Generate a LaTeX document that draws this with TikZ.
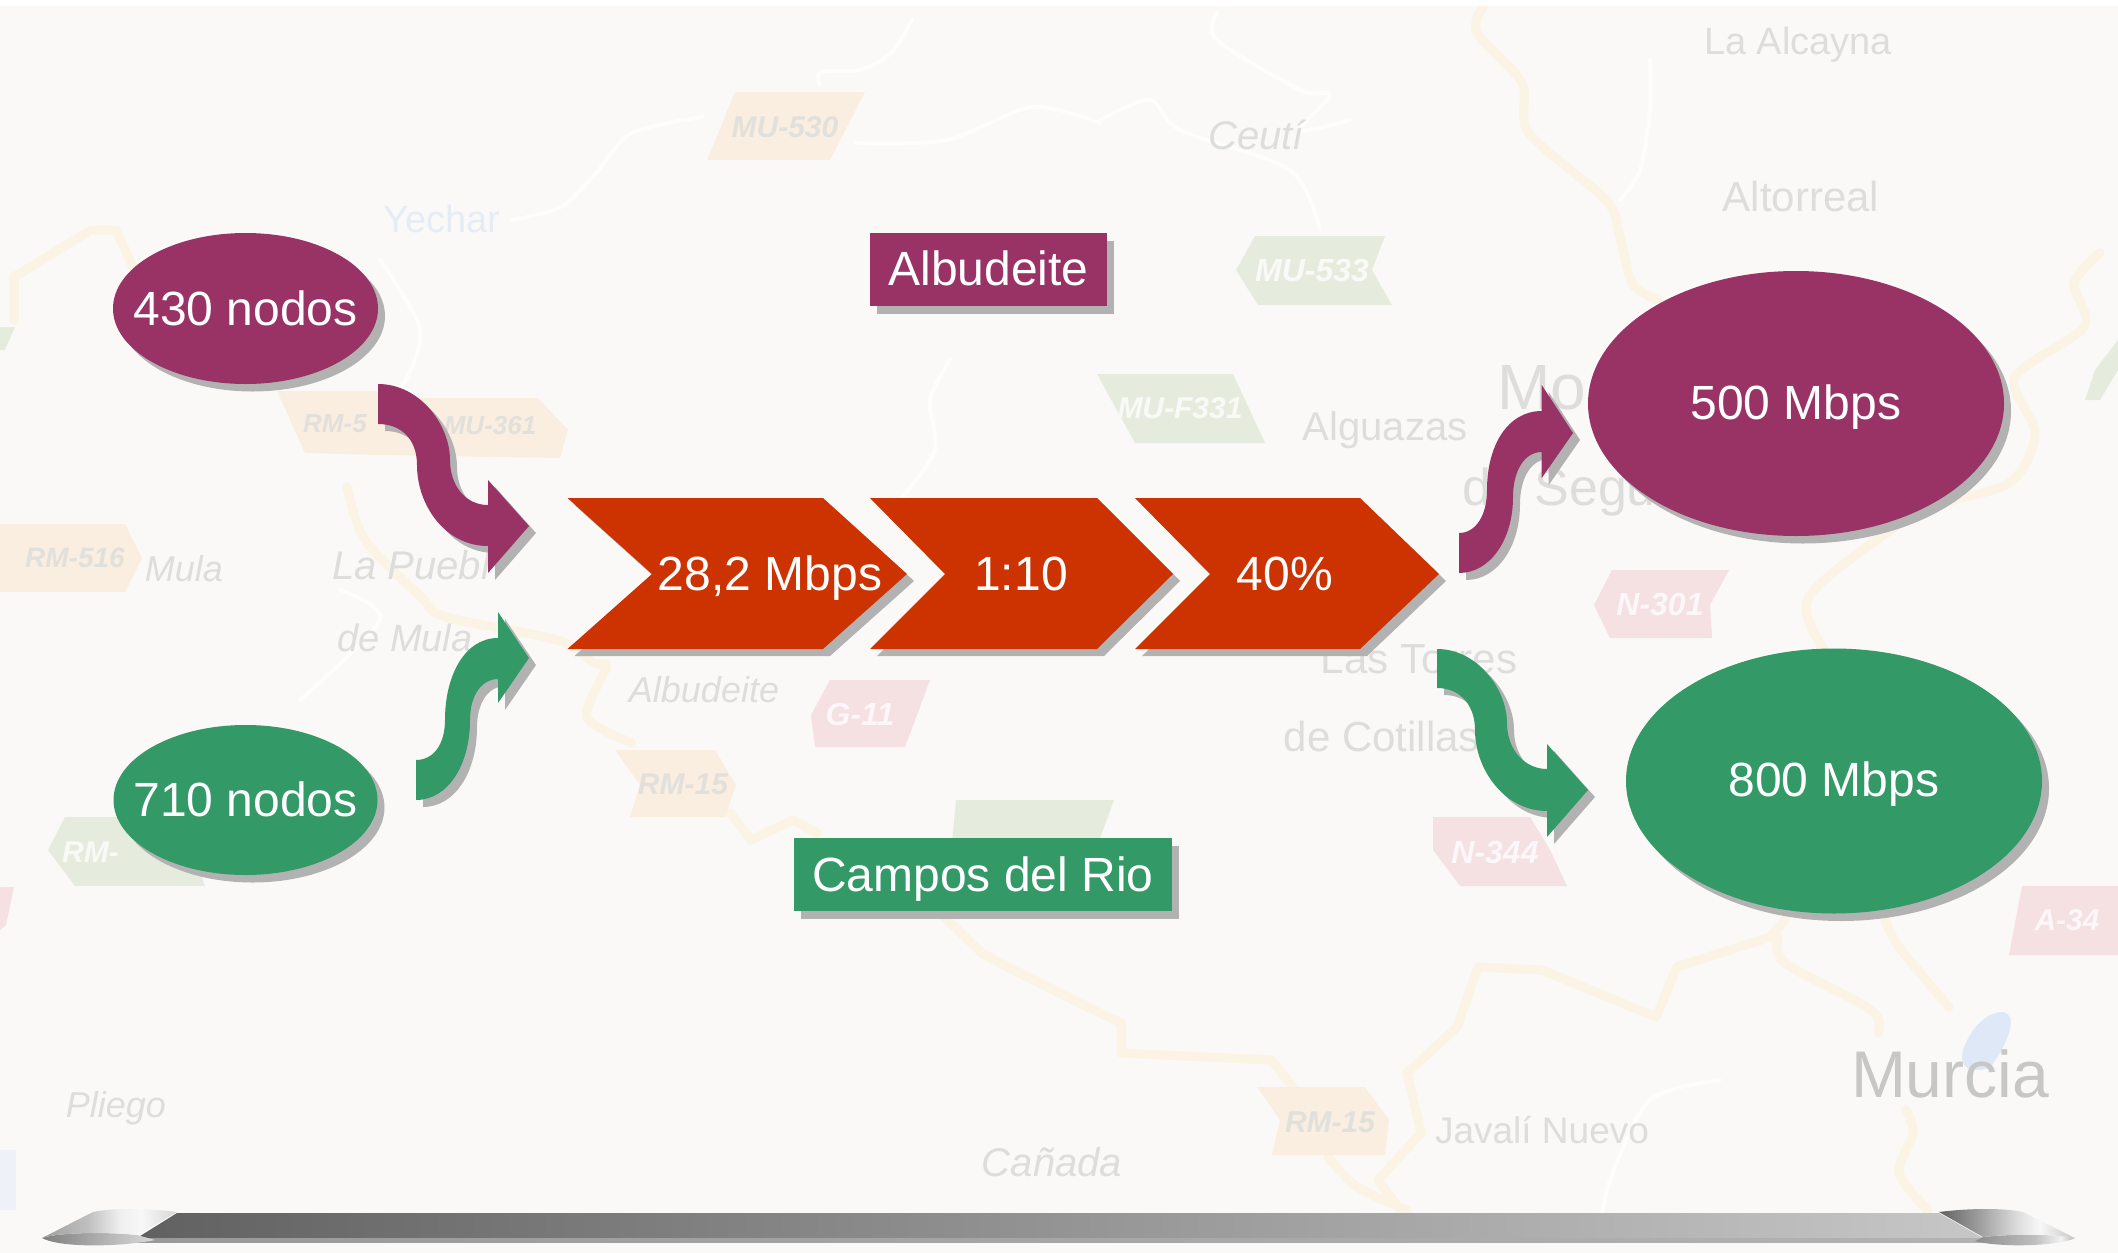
\documentclass[tikz,border=0pt]{standalone}
\usepackage{fontspec}
\setmainfont{Liberation Sans}
\usetikzlibrary{shapes.geometric,shadows}
\definecolor{plum}{HTML}{993366}
\definecolor{teal2}{HTML}{339966}
\definecolor{rust}{HTML}{CC3300}
\definecolor{shadowgrey}{HTML}{B2B2B2}
\definecolor{mapbg}{HTML}{FAF9F7}
\definecolor{roadc}{HTML}{FBF3E3}
\definecolor{roadw}{HTML}{FDFDFC}
\definecolor{mapgrey}{HTML}{DDDDDB}
\definecolor{shO}{HTML}{FAEEE0}
\definecolor{shG}{HTML}{E6ECDD}
\definecolor{shP}{HTML}{F5E0E2}
\definecolor{lake}{HTML}{DFE8F6}
\newcommand\mapfs[1]{\fontsize{#1}{#1}\selectfont}
\newcommand\blockshape[2]{\fill[shadowgrey,shift={(7,7)}] #2; \fill[#1] #2;}
\pgfdeclarehorizontalshading{capright}{100bp}{color(0bp)=(black!62);color(25bp)=(black!62);color(41bp)=(black!36);color(54bp)=(black!13);color(62bp)=(black!3);color(75bp)=(black!22);color(100bp)=(black!22)}
\pgfdeclarehorizontalshading{capleft}{100bp}{color(0bp)=(black!38);color(25bp)=(black!38);color(42bp)=(black!25);color(54bp)=(black!6);color(62bp)=(black!3);color(75bp)=(black!16);color(100bp)=(black!16)}
\pgfdeclarehorizontalshading{lensleft}{100bp}{color(0bp)=(black!50);color(25bp)=(black!50);color(50bp)=(black!32);color(75bp)=(black!14);color(100bp)=(black!14)}
\pgfdeclarehorizontalshading{lensright}{100bp}{color(0bp)=(black!45);color(25bp)=(black!45);color(55bp)=(black!25);color(68bp)=(black!5);color(75bp)=(black!30);color(100bp)=(black!30)}
\tikzset{
  x=1pt,y=-1pt,
  roadline/.style={draw=roadc,line width=9pt,line join=round,line cap=round},
  whiteline/.style={draw=roadw,line width=4pt,line join=round,line cap=round},
  maplabel/.style={text=mapgrey,inner sep=0pt,font=\mapfs{#1}},
  maplabelit/.style={text=mapgrey,inner sep=0pt,font=\mapfs{#1}\itshape},
  shieldO/.style={text=mapgrey!85!shO,inner sep=0pt,font=\mapfs{#1}\bfseries\itshape},
  shieldW/.style={text=white!75!shG,inner sep=0pt,font=\mapfs{#1}\bfseries\itshape},
  shieldP/.style={text=white!75!shP,inner sep=0pt,font=\mapfs{#1}\bfseries\itshape},
  tagtext/.style={text=white,font=\mapfs{48},inner sep=0pt,text height=34pt},
  oval/.style={ellipse,tagtext,text depth=0pt,
    drop shadow={shadow xshift=7pt,shadow yshift=-7.5pt,fill=shadowgrey,opacity=1}},
  tagbox/.style={rectangle,tagtext,
    drop shadow={shadow xshift=7pt,shadow yshift=-7.5pt,fill=shadowgrey,opacity=1}},
  chevlabel/.style={text=white,font=\mapfs{48},inner sep=0pt,anchor=base},
}
\begin{document}
\begin{tikzpicture}
\useasboundingbox (0,0) rectangle (2118,1253);
\fill[white] (0,0) rectangle (2118,1253);
\fill[mapbg] (0,6) rectangle (2118,1253);
% faint white roads
\begin{scope}
\clip (0,6) rectangle (2118,1253);
\draw[whiteline] plot[smooth] coordinates {(912,20)(891,53)(860,70)(821,72)(820,85)};
\draw[whiteline] plot[smooth] coordinates {(702,117)(632,133)(596,173)(561,207)(512,220)};
\draw[whiteline] plot[smooth] coordinates {(856,143)(947,140)(1032,107)(1100,123)};
\draw[whiteline] plot[smooth] coordinates {(1217,13)(1217,40)(1300,90)(1330,95)(1300,130)(1350,120)};
\draw[whiteline] plot[smooth] coordinates {(1100,120)(1150,100)(1180,130)(1290,170)(1320,230)};
\draw[whiteline] plot[smooth] coordinates {(1650,60)(1650,110)(1640,170)(1620,200)};
\draw[whiteline] plot[smooth] coordinates {(380,260)(420,330)(400,390)(360,430)};
\draw[whiteline] plot[smooth] coordinates {(950,360)(930,400)(935,450)(900,500)};
\draw[whiteline] plot[smooth] coordinates {(1720,1080)(1650,1100)(1610,1180)(1600,1230)};
\draw[whiteline] plot[smooth] coordinates {(340,590)(380,620)(300,700)};
% yellow roads
\draw[roadline] plot[smooth] coordinates {(1483,7)(1477,33)(1522,83)(1529,133)(1606,200)(1619,233)(1632,283)(1658,300)};
\draw[roadline] plot[smooth] coordinates {(2100,253)(2074,283)(2084,327)(2015,377)(2035,433)(2009,483)(1918,513)(1810,595)(1824,649)};
\draw[roadline] plot coordinates {(940,913)(982,953)(1000,963)(1088,1007)(1121,1023)(1121,1053)(1271,1060)(1293,1087)};
\draw[roadline] plot[smooth] coordinates {(1328,1157)(1357,1187)(1407,1210)};
\draw[roadline] plot coordinates {(1400,1210)(1378,1180)(1421,1133)(1407,1073)(1457,1027)(1478,967)(1542,970)(1656,1017)(1677,967)(1770,937)(1785,920)};
\draw[roadline] plot[smooth] coordinates {(1778,937)(1785,963)(1871,1010)(1878,1033)};
\draw[roadline] plot[smooth] coordinates {(1906,1110)(1913,1133)(1899,1173)(1928,1210)};
\draw[roadline] plot[smooth] coordinates {(1885,920)(1899,947)(1949,1007)};
\draw[roadline] plot coordinates {(14,320)(14,277)(91,230)(116,230)(133,267)};
\draw[roadline] plot[smooth] coordinates {(347,487)(365,540)(421,597)(446,617)(557,640)(594,663)(606,667)(587,717)(632,743)};
\draw[roadline] plot coordinates {(730,813)(751,840)(793,820)(817,833)};
% lake and blue traces
\fill[lake] (2003,1012) .. controls (2018,1015) and (2010,1040) .. (1990,1068) .. controls (1975,1072) and (1958,1072) .. (1963,1050) .. controls (1970,1030) and (1985,1012) .. (2003,1012) -- cycle;
\fill[lake!45!mapbg] (0,1150) rectangle (16,1210);
% shields
\fill[shO] (735,92) -- (865,92) -- (830,160) -- (707,160) -- cycle;
\fill[shO] (277,391) -- (375,391) -- (385,398) -- (538,398) -- (568,430) -- (560,458) -- (380,455) -- (305,453) -- cycle;
\fill[shO] (0,524) -- (125,524) -- (142,558) -- (125,592) -- (0,592) -- cycle;
\fill[shO] (615,750) -- (715,750) -- (736,785) -- (725,817) -- (630,817) -- (640,785) -- cycle;
\fill[shO] (1257,1087) -- (1365,1087) -- (1389,1120) -- (1385,1155) -- (1272,1155) -- (1280,1120) -- cycle;
\fill[shG] (1255,236) -- (1385,236) -- (1372,270) -- (1392,305) -- (1258,305) -- (1236,270) -- cycle;
\fill[shG] (1097,374) -- (1233,374) -- (1265,443) -- (1135,443) -- cycle;
\fill[shG] (956,800) -- (1114,800) -- (1090,865) -- (950,865) -- cycle;
\fill[shG] (65,817) -- (180,817) -- (205,886) -- (75,886) -- (48,850) -- cycle;
\fill[shG] (0,327) -- (15,327) -- (5,350) -- (0,350) -- cycle;
\fill[shG] (2118,340) -- (2095,370) -- (2085,400) -- (2100,400) -- (2118,370) -- cycle;
\fill[shP] (1612,570) -- (1729,570) -- (1710,605) -- (1712,638) -- (1610,638) -- (1594,605) -- cycle;
\fill[shP] (1433,817) -- (1530,817) -- (1550,850) -- (1567,886) -- (1460,886) -- (1433,850) -- cycle;
\fill[shP] (2022,886) -- (2118,886) -- (2118,955) -- (2009,955) -- cycle;
\fill[shP] (830,680) -- (930,680) -- (905,747) -- (815,747) -- (811,715) -- cycle;
\fill[shP] (0,887) -- (14,887) -- (6,925) -- (0,930) -- cycle;
% map labels
\node[maplabel=38,text=lake!75!mapbg] (mYechar) at (442,219) {Yechar};
\node[shieldO=30] (mS1) at (785,127) {MU-530};
\node[maplabelit=40] (mCeuti) at (1256,135) {Ceutí};
\node[maplabel=38] (mAlcayna) at (1798,45) {La Alcayna};
\node[maplabel=42] (mAltorreal) at (1801,196) {Altorreal};
\node[shieldW=32] (mS2) at (1312,270) {MU-533};
\node[shieldW=30] (mS3) at (1180,408) {MU-F331};
\node[maplabel=40] (mAlguazas) at (1385,430) {Alguazas};
\node[maplabel=64,anchor=west] (mMolina) at (1497,388) {Mo};
\node[maplabel=52,anchor=west] (mSegura) at (1462,492) {de Segur};
\node[shieldP=32] (mS4) at (1660,604) {N-301};
\node[maplabel=42] (mTorres) at (1419,659) {Las Torres};
\node[maplabel=42] (mCotillas) at (1382,736) {de Cotillas};
\node[shieldP=32] (mS5) at (1495,852) {N-344};
\node[shieldP=30] (mS6) at (2067,920) {A-34};
\node[maplabel=66,text=mapgrey!90!black] (mMurcia) at (1950,1074) {Murcia};
\node[maplabel=37] (mJavali) at (1542,1130) {Javalí Nuevo};
\node[shieldO=30] (mS7) at (1330,1122) {RM-15};
\node[maplabelit=40] (mCanada) at (1052,1162) {Cañada};
\node[maplabelit=36] (mPliego) at (116,1108) {Pliego};
\node[shieldO=30] (mS8) at (683,784) {RM-15};
\node[maplabelit=36] (mAlbu) at (704,690) {Albudeite};
\node[shieldP=32] (mS9) at (860,714) {G-11};
\node[shieldO=28] (mS10) at (75,558) {RM-516};
\node[maplabelit=36] (mMula) at (184,569) {Mula};
\node[maplabelit=40,anchor=west] (mPuebla) at (332,565) {La Puebl};
\node[maplabelit=38] (mdeMula) at (405,638) {de Mula};
\node[shieldO=26] (mS11) at (335,424) {RM-5};
\node[shieldO=26] (mS12) at (490,426) {MU-361};
\node[shieldW=30,anchor=west] (mS13) at (62,852) {RM-};
\end{scope}
% chevrons
\blockshape{rust}{(567.5,498) -- (823,498) -- (907,574) -- (823,649) -- (567.5,649) -- (652,574) -- cycle}
\blockshape{rust}{(870,498) -- (1097,498) -- (1173,574) -- (1097,649) -- (870,649) -- (945,574) -- cycle}
\blockshape{rust}{(1135,498) -- (1360,498) -- (1439,574) -- (1360,649) -- (1135,649) -- (1210,574) -- cycle}
\node[chevlabel] (c1) at (770,590) {28,2 Mbps};
\node[chevlabel] (c2) at (1021,590) {1:10};
\node[chevlabel] (c3) at (1285,590) {40\%};
% curved block arrows
\blockshape{plum}{(378,384) .. controls (420,384) and (450,425) .. (450,460) .. controls (450,485) and (465,505) .. (488,505) -- (488,480) -- (529,526) -- (488,573) -- (488,546) .. controls (445,546) and (417,505) .. (417,465) .. controls (417,440) and (402,424) .. (378,424) -- cycle}
\blockshape{teal2}{(416,800) -- (416,760) .. controls (433,760) and (445,745) .. (445,720) .. controls (445,675) and (465,638) .. (498,638) -- (498,612) -- (529,658) -- (498,703) -- (498,679) .. controls (482,679) and (470,695) .. (470,720) .. controls (470,765) and (448,800) .. (416,800) -- cycle}
\blockshape{plum}{(1459,573) -- (1459,533) .. controls (1476,533) and (1487,515) .. (1487,490) .. controls (1487,445) and (1508,411) .. (1541.7,411) -- (1541.7,385) -- (1573,433) -- (1541.7,478) -- (1541.7,452) .. controls (1525,452) and (1513,470) .. (1513,497) .. controls (1513,540) and (1490,573) .. (1459,573) -- cycle}
\blockshape{teal2}{(1437,649) .. controls (1478,649) and (1507,690) .. (1507,723) .. controls (1507,750) and (1525,769) .. (1547,769) -- (1547,744) -- (1588,790) -- (1547,837) -- (1547,811) .. controls (1505,811) and (1475,770) .. (1475,730) .. controls (1475,705) and (1460,688) .. (1437,688) -- cycle}
% ovals
\node[oval,fill=plum,minimum width=265pt,minimum height=151pt] (n430) at (245.5,308.5) {\makebox[0pt]{430 nodos}};
\node[oval,fill=teal2,text depth=1pt,minimum width=264pt,minimum height=150pt] (n710) at (245.5,800) {\makebox[0pt]{710 nodos}};
\node[oval,fill=plum,text depth=3pt,minimum width=416pt,minimum height=265pt] (m500) at (1796,403.5) {500 Mbps};
\node[oval,fill=teal2,text depth=3pt,minimum width=416pt,minimum height=265pt] (m800) at (1834,781) {800 Mbps};
% tags
\node[tagbox,fill=plum,text depth=3pt,minimum width=237pt,minimum height=73pt] (albu) at (988.5,269.5) {Albudeite};
\node[tagbox,fill=teal2,text depth=1pt,minimum width=378pt,minimum height=73pt] (campos) at (983,874.5) {Campos del Rio};
% bottom bar
\shade[left color=black!62,right color=black!22] (177,1213) -- (1939,1213) -- (1983,1238) -- (137,1238) -- cycle;
\shade[left color=black!40,right color=black!30] (137,1238) rectangle (1983,1242);
\shade[shading=lensleft] (42,1238) .. controls (60,1232) and (110,1232) .. (137,1235) -- (155,1240) .. controls (120,1247) and (60,1248) .. (42,1238) -- cycle;
\shade[shading=capleft] (42,1238) -- (93,1212) .. controls (110,1208) and (150,1208) .. (177,1212) -- (137,1235) .. controls (110,1232) and (60,1232) .. (42,1238) -- cycle;
\shade[shading=lensright] (1983,1237) .. controls (2020,1233) and (2060,1235) .. (2075,1238) .. controls (2060,1246) and (2000,1248) .. (1975,1241) -- cycle;
\shade[shading=capright] (1939,1212) .. controls (1970,1208) and (2005,1208) .. (2023,1212) -- (2075,1238) .. controls (2060,1235) and (2020,1233) .. (1983,1237) -- cycle;
\end{tikzpicture}
\end{document}
